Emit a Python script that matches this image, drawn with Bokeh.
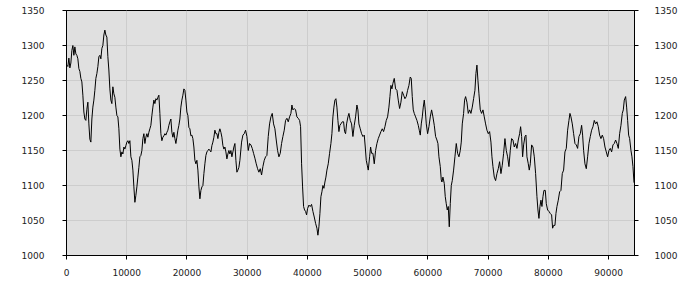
from bokeh.plotting import figure
from bokeh.models import Range1d, FixedTicker, LinearAxis, BasicTickFormatter
from bokeh.embed import file_html
from bokeh.resources import INLINE

# ---- data (x = sample position, y = value) ----
seg_a_x = [61, 227, 393, 559, 725, 891, 1057, 1223, 1389, 1555,
           1722, 1888, 2054, 2220, 2386, 2552, 2718, 2884, 3050, 3216,
           3382, 3548, 3714, 3880, 4046, 4212, 4378, 4544, 4710, 4876,
           5043, 5209, 5375, 5541, 5707, 5873, 6039, 6205, 6371, 6537,
           6703, 6869, 7035, 7201, 7367, 7533, 7699, 7865, 8031, 8197,
           8364, 8530, 8696, 8862, 9028, 9194, 9360, 9526, 9692, 9858,
           10024, 10190, 10356, 10522, 10688, 10854, 11020, 11186, 11352, 11518,
           11685, 11851, 12017, 12183, 12349, 12515, 12681, 12847, 13013, 13179,
           13345, 13511, 13677, 13843, 14009, 14175, 14341, 14507, 14673, 14839,
           15006, 15172, 15338, 15504, 15670, 15836, 16002, 16168, 16334, 16500,
           16666, 16832, 16998, 17164, 17330, 17496, 17662, 17828, 17994, 18160,
           18327, 18493, 18659, 18825, 18991, 19157, 19323, 19489, 19655, 19821,
           19987, 20153, 20319, 20485, 20651, 20817, 20983, 21149, 21315, 21481,
           21648, 21814, 21980, 22146, 22312, 22478, 22644, 22810, 22976, 23142,
           23308, 23474, 23640, 23806, 23972, 24138, 24304, 24470, 24636, 24802,
           24969, 25135, 25301, 25467, 25633, 25799, 25965, 26131, 26297, 26463,
           26629, 26795, 26961, 27127, 27293, 27459, 27625, 27791, 27957, 28123,
           28290, 28456, 28622, 28788]
seg_a_y = [1272, 1270, 1282, 1268, 1275, 1293, 1300, 1286, 1298, 1288,
           1286, 1281, 1267, 1263, 1253, 1248, 1229, 1205, 1195, 1193,
           1209, 1219, 1188, 1166, 1162, 1195, 1212, 1222, 1236, 1253,
           1260, 1270, 1284, 1286, 1281, 1296, 1300, 1315, 1322, 1315,
           1312, 1284, 1265, 1238, 1222, 1217, 1241, 1231, 1226, 1212,
           1200, 1198, 1181, 1152, 1141, 1148, 1145, 1155, 1152, 1157,
           1162, 1164, 1160, 1164, 1141, 1136, 1122, 1098, 1076, 1086,
           1098, 1112, 1126, 1141, 1143, 1150, 1167, 1174, 1160, 1169,
           1174, 1169, 1176, 1181, 1186, 1200, 1212, 1222, 1217, 1224,
           1222, 1226, 1229, 1203, 1174, 1164, 1169, 1171, 1174, 1172,
           1176, 1179, 1186, 1191, 1195, 1176, 1169, 1176, 1167, 1160,
           1169, 1179, 1186, 1195, 1212, 1222, 1229, 1238, 1236, 1222,
           1205, 1200, 1183, 1181, 1171, 1172, 1167, 1155, 1136, 1131,
           1136, 1122, 1098, 1081, 1093, 1098, 1100, 1117, 1131, 1143,
           1148, 1150, 1152, 1150, 1148, 1157, 1162, 1169, 1179, 1174,
           1174, 1167, 1176, 1181, 1176, 1169, 1157, 1152, 1155, 1148,
           1138, 1145, 1150, 1145, 1150, 1141, 1148, 1155, 1160, 1136,
           1119, 1122, 1126, 1136]

seg_b_x = [29065, 29286, 29507, 29729, 29950, 30172, 30393, 30614]
seg_b_y = [1162, 1172, 1174, 1179, 1170, 1150, 1160, 1158]

seg_c_x = [30836, 31057, 31279, 31500, 31722, 31943, 32164, 32386, 32607, 32829,
           33050, 33271, 33493, 33714, 33936, 34157, 34378, 34600, 34821, 35043,
           35264, 35485, 35707, 35928, 36150, 36371, 36592, 36814, 37035, 37257,
           37423, 37589, 37810, 38032, 38253, 38474, 38696, 38862, 39028, 39194,
           39360, 39526, 39692, 39858, 40024, 40246, 40467, 40688, 40910, 41131,
           41353, 41574, 41740, 41906, 42072, 42238, 42404, 42570, 42736, 42902,
           43068, 43234, 43456, 43677, 43899, 44065, 44231, 44397, 44563, 44729,
           44895, 45061, 45227, 45393, 45559, 45781, 46002, 46168, 46334, 46500,
           46722]
seg_c_y = [1153, 1146, 1139, 1131, 1124, 1119, 1124, 1115, 1127, 1136,
           1141, 1143, 1170, 1188, 1198, 1203, 1188, 1181, 1165, 1150,
           1141, 1146, 1160, 1170, 1179, 1193, 1196, 1191, 1198, 1203,
           1215, 1208, 1210, 1208, 1198, 1196, 1193, 1184, 1131, 1098,
           1070, 1065, 1063, 1058, 1067, 1072, 1070, 1073, 1063, 1055,
           1046, 1039, 1029, 1041, 1060, 1084, 1091, 1100, 1096, 1105,
           1112, 1122, 1131, 1146, 1160, 1174, 1198, 1212, 1222, 1224,
           1212, 1193, 1177, 1186, 1188, 1191, 1191, 1177, 1174, 1188,
           1198]

seg_d_x = [46888, 47109, 47331, 47552, 47773, 47995, 48216, 48382, 48548, 48770,
           48991, 49213, 49434, 49600, 49766, 49932, 50098, 50320, 50486, 50652,
           50873, 51094, 51316, 51537, 51759, 51980, 52201, 52423, 52644, 52866,
           53087, 53308, 53530, 53696, 53862, 54028, 54194, 54415, 54637, 54858,
           55080, 55301, 55522, 55744, 55965, 56187, 56408, 56629, 56851, 57072,
           57238, 57404, 57570, 57736, 57958, 58179, 58401, 58567, 58733, 58899,
           59065, 59231, 59397, 59563, 59729, 59950, 60172, 60393, 60615, 60836,
           61057, 61279, 61500, 61666, 61832, 62054, 62220, 62330]
seg_d_y = [1203, 1193, 1188, 1170, 1186, 1198, 1215, 1208, 1188, 1181,
           1174, 1170, 1172, 1155, 1136, 1129, 1122, 1141, 1155, 1146,
           1146, 1131, 1150, 1160, 1167, 1172, 1177, 1181, 1177, 1184,
           1193, 1198, 1212, 1227, 1243, 1238, 1246, 1253, 1238, 1236,
           1222, 1210, 1219, 1234, 1229, 1224, 1227, 1236, 1243, 1255,
           1253, 1227, 1208, 1203, 1198, 1193, 1186, 1179, 1172, 1188,
           1198, 1212, 1222, 1208, 1188, 1174, 1184, 1198, 1208, 1198,
           1186, 1170, 1165, 1160, 1141, 1127, 1108, 1105]

seg_e_x = [62496, 62717, 62883, 63049, 63215, 63381, 63548, 63714, 63880, 64046,
           64267, 64488, 64710, 64931, 65153, 65374, 65540, 65706, 65928, 66094,
           66260, 66481, 66702, 66924, 67145, 67367, 67588, 67809, 67975, 68141,
           68308, 68474, 68695, 68916, 69138, 69359, 69581, 69802, 70023, 70245,
           70466, 70632, 70798, 71020, 71241, 71463, 71684, 71905, 72127, 72348,
           72570, 72791, 73012, 73234, 73455, 73677, 73898, 74119, 74341, 74562,
           74784, 75005, 75226, 75392, 75558, 75724, 75891, 76112, 76278, 76444,
           76665, 76831, 76998, 77219, 77440, 77662, 77883]
seg_e_y = [1112, 1103, 1084, 1074, 1065, 1070, 1041, 1074, 1100, 1107,
           1122, 1141, 1160, 1146, 1141, 1150, 1162, 1188, 1203, 1222,
           1227, 1219, 1203, 1208, 1203, 1212, 1224, 1236, 1260, 1272,
           1250, 1231, 1208, 1203, 1208, 1198, 1188, 1179, 1174, 1177,
           1162, 1141, 1127, 1112, 1107, 1117, 1124, 1134, 1117, 1129,
           1146, 1167, 1150, 1141, 1127, 1150, 1167, 1165, 1155, 1160,
           1153, 1165, 1174, 1184, 1170, 1141, 1158, 1170, 1172, 1141,
           1131, 1122, 1131, 1158, 1155, 1141, 1117]

seg_f_x = [78104, 78270, 78436, 78602, 78768, 78934, 79100, 79266, 79488, 79654,
           79875, 80096, 80318, 80539, 80705, 80871, 81093, 81259, 81425, 81646,
           81868, 82089, 82310, 82532, 82753, 82975, 83196, 83417, 83583, 83750,
           83971, 84192, 84414, 84635, 84857, 85078, 85299, 85521, 85687, 85853,
           86074, 86296, 86517, 86738, 86960, 87181, 87403, 87624, 87845, 88067,
           88288, 88510, 88731, 88952, 89174, 89395, 89617, 89838, 90059, 90281,
           90502, 90724, 90945, 91166, 91388, 91609, 91831, 92052, 92273, 92439,
           92606, 92827, 92993, 93159, 93325, 93491, 93713, 93879, 94045, 94211,
           94300]
seg_f_y = [1084, 1065, 1053, 1070, 1079, 1070, 1084, 1093, 1093, 1074,
           1065, 1063, 1060, 1058, 1039, 1043, 1043, 1060, 1070, 1079,
           1091, 1093, 1117, 1122, 1148, 1153, 1179, 1193, 1203, 1198,
           1188, 1174, 1160, 1158, 1153, 1170, 1174, 1186, 1172, 1150,
           1131, 1124, 1141, 1160, 1170, 1179, 1184, 1193, 1188, 1191,
           1184, 1172, 1167, 1172, 1167, 1155, 1148, 1141, 1150, 1153,
           1148, 1158, 1160, 1165, 1160, 1153, 1174, 1186, 1203, 1208,
           1222, 1227, 1212, 1193, 1172, 1167, 1150, 1141, 1127, 1105,
           1103]

x_ticks = [0, 10000, 20000, 30000, 40000, 50000, 60000, 70000, 80000, 90000]
y_ticks = [1000, 1050, 1100, 1150, 1200, 1250, 1300, 1350]

xs = seg_a_x + seg_b_x + seg_c_x + seg_d_x + seg_e_x + seg_f_x
ys = seg_a_y + seg_b_y + seg_c_y + seg_d_y + seg_e_y + seg_f_y

FONT = "DejaVu Sans"

p = figure(width=700, height=281, output_backend="svg", toolbar_location=None,
           x_range=Range1d(0, xs[-1]), y_range=Range1d(1000, 1350),
           x_axis_location=None, y_axis_location=None,
           min_border_left=66, min_border_right=66,
           min_border_top=10, min_border_bottom=26)

p.background_fill_color = "#e0e0e0"
p.border_fill_color = "white"
p.outline_line_color = "black"
p.outline_line_width = 1

def style_axis(ax, ticks, standoff):
    ax.ticker = FixedTicker(ticks=ticks)
    ax.formatter = BasicTickFormatter(use_scientific=False)
    ax.axis_line_color = "black"
    ax.major_tick_line_color = "black"
    ax.major_tick_in = 0
    ax.major_tick_out = 4
    ax.minor_tick_line_color = None
    ax.major_label_text_font = FONT
    ax.major_label_text_font_size = "9px"
    ax.major_label_text_color = "#222222"
    ax.major_label_standoff = standoff
    return ax

bottom = style_axis(LinearAxis(), x_ticks, 9)
left = style_axis(LinearAxis(), y_ticks, 18)
right = style_axis(LinearAxis(), y_ticks, 16)
p.add_layout(bottom, "below")
p.add_layout(left, "left")
p.add_layout(right, "right")

p.xgrid.ticker = FixedTicker(ticks=x_ticks)
p.ygrid.ticker = FixedTicker(ticks=y_ticks)
p.grid.grid_line_color = "#cdcdcd"
p.grid.grid_line_width = 1

p.line(xs, ys, line_color="black", line_width=1)

open("out.html", "w").write(file_html(p, INLINE))
